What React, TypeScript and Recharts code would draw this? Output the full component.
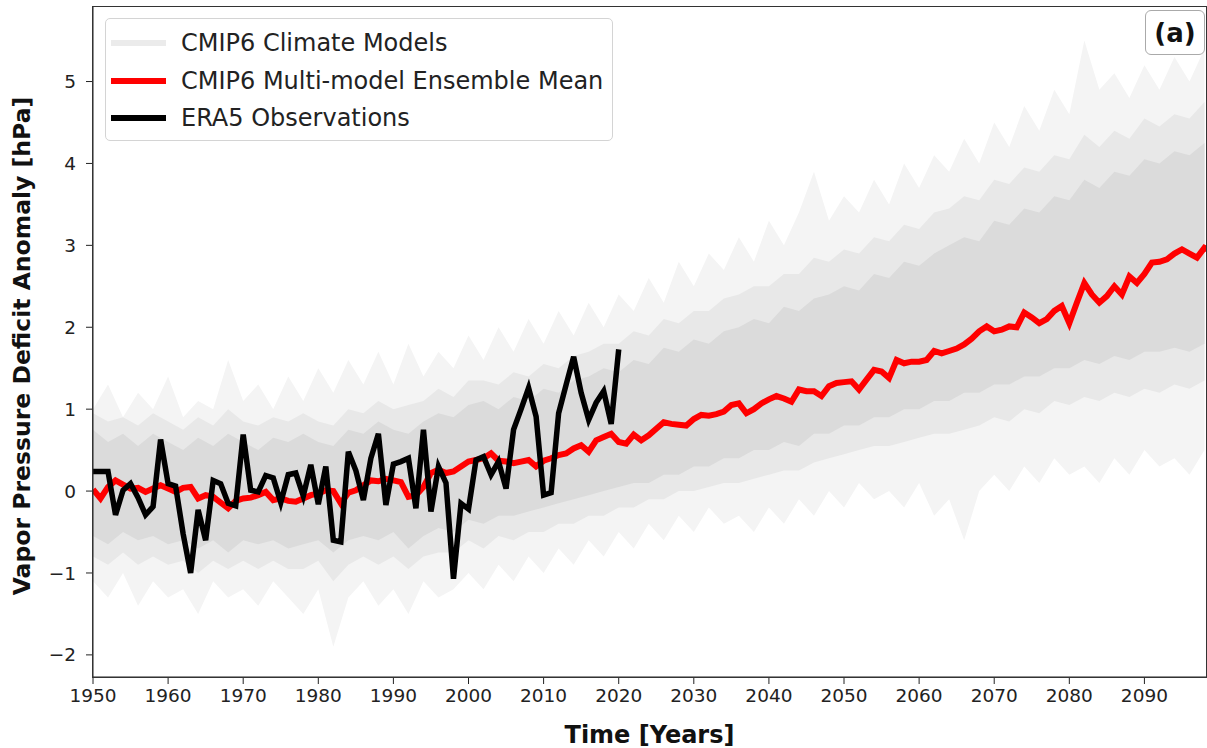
import { ComposedChart, Line, Area, XAxis, YAxis } from 'recharts';

// ERA5 observations, 1950-2020 (hPa anomaly)
const obsYears = Array.from({ length: 71 }, (_, i) => 1950 + i);
const obsValues = [
  0.24, 0.24, 0.24, -0.29, 0.01, 0.09, -0.08, -0.29, -0.19, 0.63,
  0.09, 0.06, -0.52, -1.0, -0.23, -0.6, 0.13, 0.09, -0.15, -0.18,
  0.69, 0.01, -0.01, 0.19, 0.16, -0.14, 0.2, 0.22, -0.06, 0.32,
  -0.16, 0.3, -0.6, -0.62, 0.48, 0.25, -0.11, 0.4, 0.7, -0.17,
  0.33, 0.36, 0.4, -0.21, 0.75, -0.25, 0.3, 0.1, -1.07, -0.15,
  -0.22, 0.38, 0.42, 0.2, 0.36, 0.03, 0.75, 1.0, 1.26, 0.91,
  -0.05, -0.02, 0.95, 1.3, 1.64, 1.2, 0.87, 1.08, 1.22, 0.82,
  1.73,
];

// CMIP6 multi-model ensemble mean, 1950-2099
const meanYears = Array.from({ length: 150 }, (_, i) => 1950 + i);
const meanValues = [
  0.02, -0.09, 0.05, 0.13, 0.08, 0.03, 0.04, -0.01, 0.03, 0.07,
  0.03, -0.01, 0.04, 0.05, -0.09, -0.05, -0.07, -0.14, -0.21, -0.12,
  -0.09, -0.08, -0.05, -0.01, -0.11, -0.09, -0.12, -0.13, -0.09, -0.05,
  -0.03, 0.01, 0.0, -0.15, -0.02, 0.01, 0.07, 0.13, 0.12, 0.15,
  0.13, 0.11, -0.07, -0.05, 0.05, 0.22, 0.26, 0.22, 0.24, 0.3,
  0.36, 0.38, 0.4, 0.46, 0.37, 0.36, 0.34, 0.36, 0.38, 0.3,
  0.37, 0.4, 0.44, 0.46, 0.52, 0.56, 0.48, 0.62, 0.66, 0.7,
  0.6, 0.58, 0.69, 0.62, 0.68, 0.76, 0.84, 0.82, 0.81, 0.8,
  0.88, 0.93, 0.92, 0.94, 0.97, 1.05, 1.07, 0.95, 1.0, 1.07,
  1.12, 1.16, 1.13, 1.09, 1.24, 1.22, 1.22, 1.16, 1.28, 1.32,
  1.33, 1.34, 1.24, 1.36, 1.48, 1.46, 1.38, 1.6, 1.56, 1.58,
  1.58, 1.6, 1.71, 1.68, 1.71, 1.74, 1.79, 1.86, 1.95, 2.01,
  1.95, 1.97, 2.01, 2.0, 2.18, 2.12, 2.05, 2.1, 2.2, 2.26,
  2.05, 2.3, 2.54, 2.4, 2.3, 2.38, 2.5, 2.4, 2.62, 2.54,
  2.65, 2.79, 2.8, 2.83, 2.9, 2.95, 2.9, 2.85, 2.97, 2.93,
];

// CMIP6 individual models, summarised as spread envelopes every 2 years
const bandYears = Array.from({ length: 75 }, (_, i) => 1950 + i * 2);
const outerHigh = [
  1.0, 1.3, 0.9, 1.2, 1.0, 1.4, 0.9, 1.1, 1.0, 1.6,
  1.1, 1.3, 1.0, 1.4, 1.1, 1.5, 1.2, 1.6, 1.3, 1.7,
  1.3, 1.8, 1.4, 1.7, 1.5, 1.9, 1.6, 2.0, 1.7, 2.1,
  1.8, 2.2, 1.9, 2.3, 2.0, 2.4, 2.2, 2.6, 2.3, 2.8,
  2.5, 2.9, 2.7, 3.1, 2.8, 3.3, 3.0, 3.4, 3.9, 3.3,
  3.6, 3.4, 3.8, 3.5, 4.0, 3.7, 4.1, 3.9, 4.3, 4.0,
  4.5, 4.2, 4.7, 4.4, 4.9, 4.6, 5.5, 4.9, 5.1, 4.8,
  5.2, 4.9, 5.3, 5.0, 5.4,
];
const outerLow = [
  -1.1, -1.3, -1.0, -1.4, -1.1, -1.3, -1.2, -1.5, -1.1, -1.3,
  -1.2, -1.4, -1.1, -1.3, -1.5, -1.2, -1.9, -1.3, -1.1, -1.4,
  -1.2, -1.5, -1.1, -1.3, -1.2, -1.0, -1.2, -0.9, -1.1, -0.8,
  -1.0, -0.7, -0.9, -0.6, -0.8, -0.5, -0.7, -0.4, -0.6, -0.3,
  -0.5, -0.2, -0.4, -0.3, -0.5, -0.2, -0.4, -0.1, -0.3, 0.0,
  -0.2, 0.1, -0.1, 0.0, -0.2, 0.1, -0.3, -0.1, -0.6, 0.0,
  0.2, 0.0, 0.3, 0.1, 0.4, 0.2, 0.3, 0.1, 0.4, 0.2,
  0.5, 0.3, 0.4, 0.2, 0.5,
];
const midHigh = [
  0.95, 0.85, 0.9, 0.8, 0.95, 0.85, 0.75, 0.9, 0.8, 1.0,
  0.85, 0.8, 0.9, 0.85, 0.95, 0.85, 0.8, 1.0, 0.95, 1.1,
  1.0, 1.05, 1.1, 1.25, 1.15, 1.35, 1.35, 1.3, 1.45, 1.4,
  1.55, 1.5, 1.65, 1.7, 1.8, 1.8, 1.95, 1.9, 2.1, 2.05,
  2.2, 2.2, 2.35, 2.4, 2.5, 2.5, 2.65, 2.65, 2.85, 2.8,
  2.95, 2.9, 3.1, 3.05, 3.25, 3.2, 3.4, 3.45, 3.6, 3.55,
  3.8, 3.75, 3.95, 3.9, 4.1, 4.05, 4.35, 4.2, 4.4, 4.3,
  4.55, 4.45, 4.6, 4.55, 4.75,
];
const midLow = [
  -0.8, -0.9, -0.75, -0.9, -0.8, -0.9, -0.85, -1.0, -0.85, -0.95,
  -0.85, -0.95, -0.85, -0.95, -0.95, -0.85, -1.1, -0.9, -0.8, -0.9,
  -0.8, -0.95, -0.8, -0.75, -0.75, -0.6, -0.7, -0.55, -0.6, -0.5,
  -0.5, -0.4, -0.4, -0.3, -0.3, -0.2, -0.2, -0.1, -0.1, 0.0,
  0.0, 0.05, 0.1, 0.1, 0.15, 0.2, 0.25, 0.25, 0.35, 0.4,
  0.45, 0.5, 0.55, 0.55, 0.6, 0.65, 0.7, 0.7, 0.75, 0.8,
  0.9, 0.85, 1.0, 0.95, 1.1, 1.05, 1.15, 1.1, 1.2, 1.15,
  1.25, 1.2, 1.3, 1.25, 1.35,
];
const coreHigh = [
  0.75, 0.6, 0.7, 0.55, 0.7, 0.6, 0.5, 0.65, 0.55, 0.7,
  0.6, 0.5, 0.65, 0.6, 0.7, 0.6, 0.55, 0.75, 0.7, 0.85,
  0.75, 0.7, 0.85, 0.95, 0.9, 1.05, 1.1, 1.0, 1.15, 1.1,
  1.25, 1.2, 1.35, 1.4, 1.5, 1.45, 1.6, 1.55, 1.75, 1.7,
  1.85, 1.8, 1.95, 2.0, 2.1, 2.05, 2.25, 2.2, 2.35, 2.4,
  2.5, 2.45, 2.65, 2.6, 2.8, 2.75, 2.9, 3.0, 3.1, 3.05,
  3.3, 3.25, 3.45, 3.4, 3.6, 3.55, 3.8, 3.7, 3.9, 3.85,
  4.05, 4.0, 4.15, 4.1, 4.25,
];
const coreLow = [
  -0.55, -0.65, -0.5, -0.6, -0.55, -0.65, -0.6, -0.7, -0.6, -0.75,
  -0.6, -0.65, -0.6, -0.7, -0.65, -0.6, -0.75, -0.6, -0.55, -0.6,
  -0.5, -0.7, -0.55, -0.45, -0.5, -0.35, -0.4, -0.3, -0.3, -0.25,
  -0.2, -0.15, -0.1, -0.05, 0.0, 0.05, 0.1, 0.1, 0.2, 0.2,
  0.3, 0.3, 0.4, 0.4, 0.5, 0.5, 0.6, 0.55, 0.7, 0.7,
  0.8, 0.8, 0.9, 0.9, 1.0, 1.0, 1.1, 1.1, 1.2, 1.2,
  1.3, 1.3, 1.4, 1.4, 1.5, 1.5, 1.6, 1.55, 1.65, 1.6,
  1.7, 1.7, 1.75, 1.7, 1.8,
];

const xTicks = [1950, 1960, 1970, 1980, 1990, 2000, 2010, 2020, 2030, 2040, 2050, 2060, 2070, 2080, 2090];
const yTicks = [-2, -1, 0, 1, 2, 3, 4, 5];

const obsData = obsYears.map((year, i) => ({ year, obs: obsValues[i] }));
const meanData = meanYears.map((year, i) => ({ year, mean: meanValues[i] }));
const bandData = bandYears.map((year, i) => ({
  year,
  outer: [outerLow[i], outerHigh[i]],
  mid: [midLow[i], midHigh[i]],
  core: [coreLow[i], coreHigh[i]],
}));

const FONT = '"DejaVu Sans", sans-serif';
const fmt = (v: number) => (v < 0 ? `\u2212${Math.abs(v)}` : `${v}`);

const legendItems = [
  { label: 'CMIP6 Climate Models', color: '#ebebeb' },
  { label: 'CMIP6 Multi-model Ensemble Mean', color: '#ff0000' },
  { label: 'ERA5 Observations', color: '#000000' },
];

export default function App() {
  return (
    <div style={{ position: 'relative', width: 1207, height: 748, background: '#fff', fontFamily: FONT }}>
      <style>{`body{margin:0;}`}</style>
      <ComposedChart width={1207} height={748} margin={{ top: 7, right: 1, bottom: 0, left: 0 }}>
        <XAxis
          type="number"
          dataKey="year"
          domain={[1950, 2098.2]}
          ticks={xTicks}
          allowDataOverflow
          height={71}
          tickSize={7}
          tickMargin={5}
          stroke="#222"
          tick={{ fill: '#222', fontSize: 18.5, fontFamily: FONT }}
          label={{ value: 'Time [Years]', position: 'insideBottom', offset: 5, fill: '#111', fontSize: 24, fontWeight: 'bold', fontFamily: FONT }}
        />
        <YAxis
          type="number"
          domain={[-2.27, 5.91]}
          ticks={yTicks}
          allowDataOverflow
          width={93}
          tickSize={7}
          tickMargin={10}
          stroke="#222"
          tickFormatter={fmt}
          tick={{ fill: '#222', fontSize: 18.5, fontFamily: FONT }}
          label={{ value: 'Vapor Pressure Deficit Anomaly [hPa]', angle: -90, position: 'insideLeft', offset: 22, dy: 4, fill: '#111', fontSize: 23.5, fontWeight: 'bold', fontFamily: FONT, style: { textAnchor: 'middle' } }}
        />
        <Area data={bandData} dataKey="outer" type="linear" stroke="none" fill="#f4f4f4" fillOpacity={1} isAnimationActive={false} />
        <Area data={bandData} dataKey="mid" type="linear" stroke="none" fill="#e8e8e8" fillOpacity={1} isAnimationActive={false} />
        <Area data={bandData} dataKey="core" type="linear" stroke="none" fill="#dbdbdb" fillOpacity={1} isAnimationActive={false} />
        <Line data={meanData} dataKey="mean" type="linear" stroke="#ff0000" strokeWidth={6} dot={false} isAnimationActive={false} />
        <Line data={obsData} dataKey="obs" type="linear" stroke="#000000" strokeWidth={5.5} strokeLinejoin="miter" dot={false} isAnimationActive={false} />
      </ComposedChart>

      {/* axes frame */}
      <div style={{ position: 'absolute', left: 92, top: 6, width: 1113, height: 670, border: '1.5px solid #333', pointerEvents: 'none' }} />

      {/* legend */}
      <div
        style={{
          position: 'absolute', left: 105, top: 18, width: 508, height: 123,
          border: '1px solid #d4d4d4', borderRadius: 5, background: 'rgba(255,255,255,0.8)', boxSizing: 'border-box',
        }}
      >
        {legendItems.map((item, i) => (
          <div key={item.label} style={{ position: 'absolute', left: 0, top: 8 + i * 37.5, height: 32, display: 'flex', alignItems: 'center' }}>
            <div style={{ marginLeft: 5, width: 55, height: 6, background: item.color }} />
            <span style={{ marginLeft: 15, fontSize: 24, color: '#222', whiteSpace: 'nowrap' }}>{item.label}</span>
          </div>
        ))}
      </div>

      {/* panel tag */}
      <div
        style={{
          position: 'absolute', left: 1145, top: 10, width: 60, height: 45, border: '1px solid #aaa', borderRadius: 6,
          background: '#fff', boxSizing: 'border-box', display: 'flex', alignItems: 'center', justifyContent: 'center',
          fontSize: 26, fontWeight: 'bold', color: '#111',
        }}
      >
        (a)
      </div>
    </div>
  );
}
